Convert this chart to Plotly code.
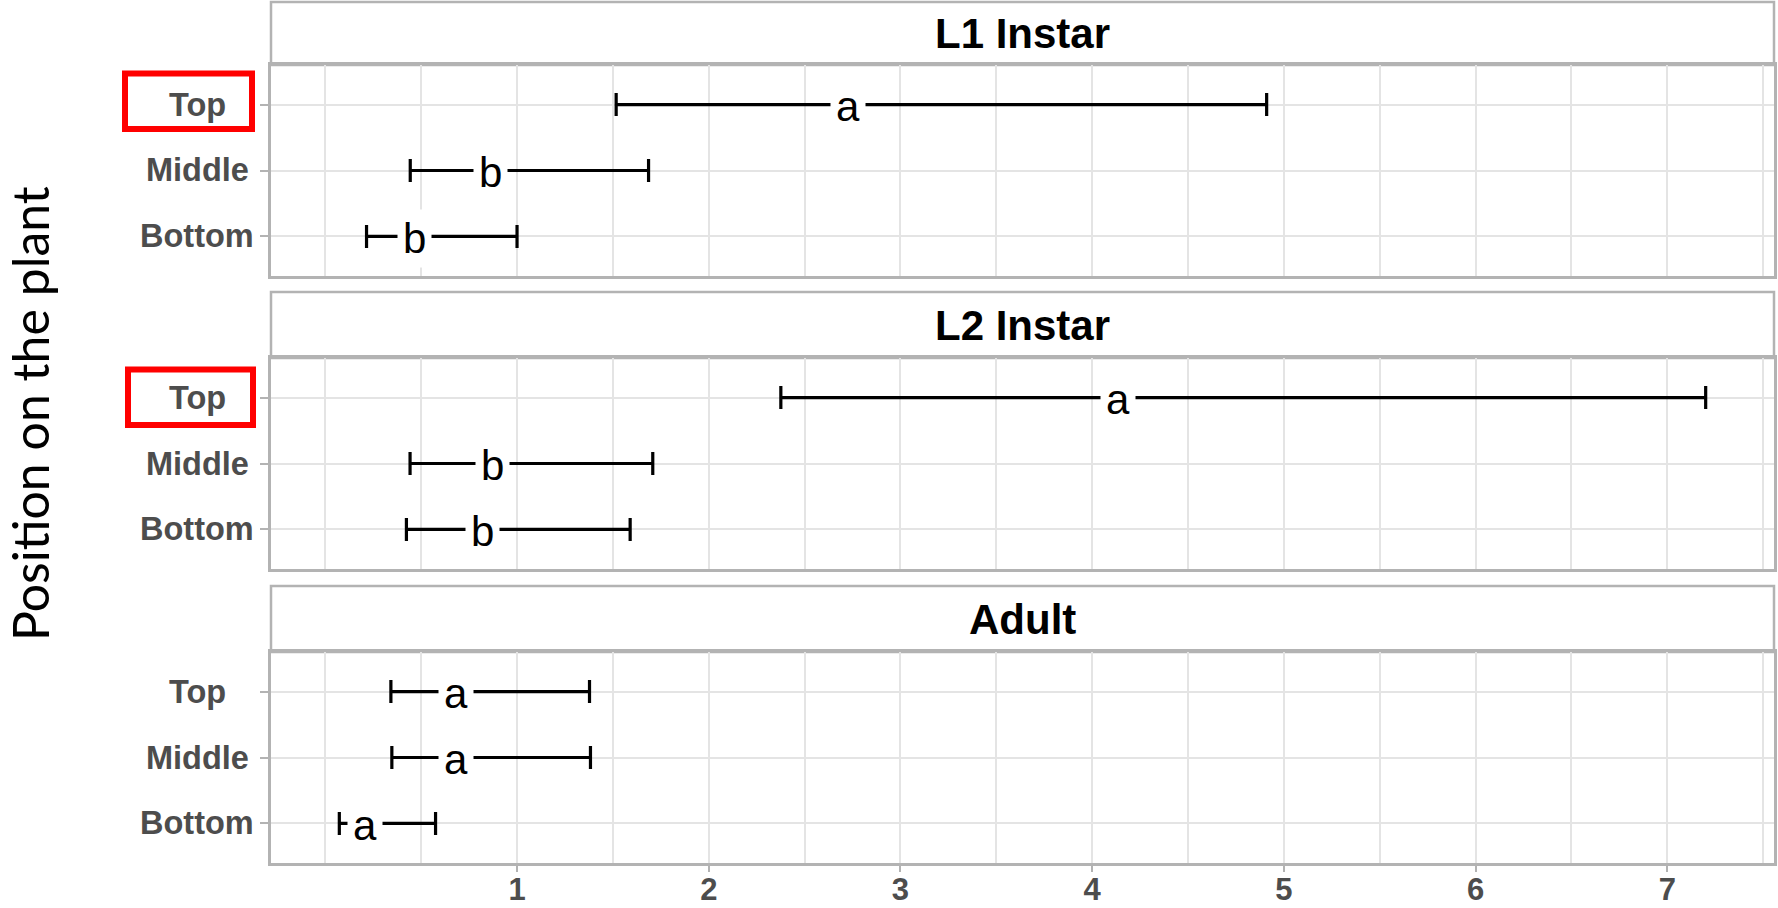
import plotly.graph_objects as go

# ---------------- data ----------------
stages = ["L1 Instar", "L2 Instar", "Adult"]
positions = ["Bottom", "Middle", "Top"]

l1_lower = [0.215, 0.443, 1.517]
l1_mean = [0.463, 0.860, 2.728]
l1_upper = [1.000, 1.686, 4.910]
l1_letters = ["b", "b", "a"]

l2_lower = [0.423, 0.442, 2.376]
l2_mean = [0.818, 0.871, 4.136]
l2_upper = [1.590, 1.708, 7.200]
l2_letters = ["b", "b", "a"]

ad_lower = [0.073, 0.347, 0.342]
ad_mean = [0.205, 0.684, 0.680]
ad_upper = [0.575, 1.383, 1.378]
ad_letters = ["a", "a", "a"]

x_ticks = [1, 2, 3, 4, 5, 6, 7]
y_title = "Position on the plant"

groups = [
    (l1_lower, l1_mean, l1_upper, l1_letters),
    (l2_lower, l2_mean, l2_upper, l2_letters),
    (ad_lower, ad_mean, ad_upper, ad_letters),
]

# ---------------- geometry ----------------
W, H = 1778, 908
ML, MR, MT, MB = 271, 4, 2, 45


def px(x):
    return (x - ML) / (W - ML - MR)


def py(y):
    return (H - MB - y) / (H - MT - MB)


panels = [(65, 276), (358, 569), (652, 863)]
strips = [(2, 65), (292, 358), (586, 652)]

# x range: ggplot-like 5% expansion
all_lo = min(min(g[0]) for g in groups)
all_hi = max(max(g[2]) for g in groups)
span = all_hi - all_lo
xr = [all_lo - 0.05 * span, all_hi + 0.05 * span]

BORDER = "#b3b3b3"
GRID = "#e4e4e4"
TICKTXT = "#4d4d4d"
FONT_B = "Liberation Sans"

fig = go.Figure()
annotations = []
shapes = []

for i, (lo, mu, hi, let) in enumerate(groups):
    sfx = "" if i == 0 else str(i + 1)
    xa, ya = "x" + sfx, "y" + sfx
    fig.add_trace(go.Scatter(
        x=mu, y=positions, xaxis=xa, yaxis=ya, mode="markers",
        marker=dict(size=1, opacity=0),
        error_x=dict(type="data", symmetric=False,
                     array=[h - m for h, m in zip(hi, mu)],
                     arrayminus=[m - l for m, l in zip(mu, lo)],
                     color="black", thickness=3.2, width=11.5),
        showlegend=False, hoverinfo="skip"))
    for m, p, t in zip(mu, positions, let):
        annotations.append(dict(x=m, y=p, xref=xa, yref=ya, text=t,
                                showarrow=False, bgcolor="white",
                                borderpad=5, yshift=-2,
                                font=dict(family=FONT_B, size=42, color="black")))
    # row labels (centered like the reference)
    for p in positions:
        annotations.append(dict(x=px(197), y=p, xref="paper", yref=ya, text="<b>%s</b>" % p,
                                showarrow=False, xanchor="center", yanchor="middle",
                                font=dict(family=FONT_B, size=32.5, color=TICKTXT)))
    top, bot = panels[i]
    last = i == 2
    fig.layout["xaxis" + sfx] = dict(
        domain=[0, 1], anchor=ya, range=xr, tickmode="array", tickvals=x_ticks,
        ticktext=["<b>%d</b>" % v for v in x_ticks], automargin=False,
        showticklabels=last, ticks="outside" if last else "", ticklen=6,
        ticklabelstandoff=-9,
        tickwidth=2, tickcolor=BORDER,
        tickfont=dict(family=FONT_B, size=31, color=TICKTXT),
        showgrid=True, gridcolor=GRID, gridwidth=1.5,
        minor=dict(tickmode="linear", tick0=0, dtick=0.5, showgrid=True,
                   gridcolor=GRID, gridwidth=1.5, ticks=""),
        zeroline=False, showline=True, mirror=True, linecolor=BORDER, linewidth=2.5)
    fig.layout["yaxis" + sfx] = dict(
        domain=[py(bot), py(top)], anchor=xa, type="category", automargin=False,
        categoryorder="array", categoryarray=positions, range=[-0.6, 2.6],
        showticklabels=False, ticks="outside", ticklen=8, tickwidth=2, tickcolor=BORDER,
        showgrid=True, gridcolor=GRID, gridwidth=1.5, zeroline=False,
        showline=True, mirror=True, linecolor=BORDER, linewidth=2.5)
    # strip
    s0, s1 = strips[i]
    shapes.append(dict(type="rect", xref="paper", yref="paper", x0=0, x1=1,
                       y0=py(s1), y1=py(s0), line=dict(color=BORDER, width=2.5),
                       fillcolor="white", layer="below"))
    annotations.append(dict(x=0.5, y=(py(s0) + py(s1)) / 2, xref="paper", yref="paper",
                            text="<b>%s</b>" % stages[i], showarrow=False,
                            xanchor="center", yanchor="middle",
                            font=dict(family=FONT_B, size=42, color="black")))

# red highlight boxes around "Top" labels in panels 1 and 2
for (x0, y0, x1, y1) in [(125, 73.5, 252, 129), (128, 369.5, 253, 425)]:
    shapes.append(dict(type="rect", xref="paper", yref="paper",
                       x0=px(x0), x1=px(x1), y0=py(y1), y1=py(y0),
                       line=dict(color="#ff0000", width=6), fillcolor="rgba(0,0,0,0)"))

annotations.append(dict(x=px(30), y=py(414), xref="paper", yref="paper", text=y_title,
                        textangle=-90, showarrow=False, xanchor="center", yanchor="middle",
                        font=dict(family="Lato", size=50, color="black")))

fig.update_layout(width=W, height=H, margin=dict(l=ML, r=MR, t=MT, b=MB, autoexpand=False),
                  paper_bgcolor="white", plot_bgcolor="white",
                  annotations=annotations, shapes=shapes, showlegend=False)

fig.write_html("out.html", config={"displayModeBar": False})
